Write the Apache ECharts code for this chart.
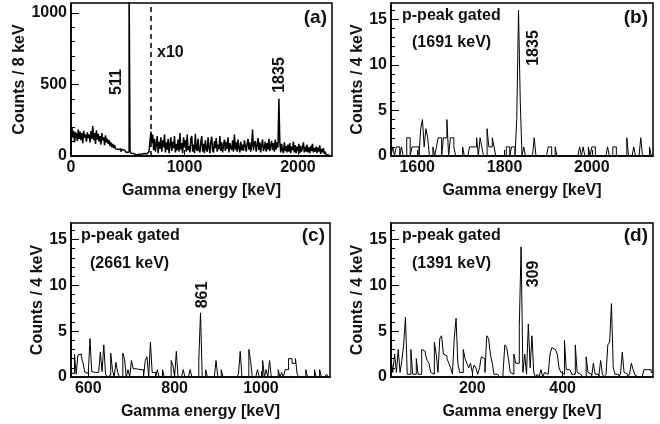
<!DOCTYPE html>
<html>
<head>
<meta charset="utf-8">
<script src="https://cdn.jsdelivr.net/npm/echarts@6/dist/echarts.min.js"></script>
<style>
  html, body { margin: 0; padding: 0; background: #fff; }
  #chart { width: 660px; height: 424px; }
</style>
</head>
<body>
<div id="chart"></div>
<script>
// (a) singles, 8 keV bins from 0 keV (scaled x10 above 700 keV)
const startA = 0, binA = 8;
const countsA = [
  40,200,130,175,95,165,150,105,185,120,
  170,110,160,90,175,130,150,100,165,125,
  150,95,175,120,210,110,160,85,180,115,
  155,100,140,80,160,110,130,75,145,95,
  120,85,110,70,95,60,85,55,75,50,
  60,45,55,35,50,30,45,35,40,30,
  35,25,38,28,1200,40,20,12,18,10,
  14,8,15,10,13,7,11,14,9,15,
  18,12,20,16,25,20,32,30,170,90,
  150,40,120,30,90,140,20,100,50,130,
  30,110,60,150,25,95,45,120,20,80,
  130,35,100,55,140,25,85,40,115,30,
  160,45,90,20,130,60,110,30,150,40,
  70,25,120,140,30,80,20,155,50,35,
  120,40,25,95,140,30,85,20,110,45,
  30,130,60,20,100,135,40,25,105,55,
  125,30,80,45,140,35,95,25,75,115,
  35,100,50,130,25,90,60,40,110,30,
  150,45,95,30,115,55,25,100,40,80,
  35,110,70,30,85,120,45,95,30,75,
  185,40,90,105,30,75,125,40,95,25,
  80,115,35,60,100,30,90,45,120,35,
  70,105,40,90,30,115,45,95,60,400,
  100,25,85,40,20,95,35,70,25,80,
  30,90,20,65,40,100,25,75,20,65,
  35,85,20,70,30,60,95,25,65,30,
  80,25,60,20,70,35,85,25,55,30,
  65,20,60,30,75,15,50,25,55,15,
  30,10,20,5,0,0,0
];
const dashAt = 700;

// (b) p-peak gated (1691 keV), 4 keV bins from 1540 keV
const startB = 1540, binB = 4;
const countsB = [
  0,1,0,1,1,0,1,0,0,2,
  2,0,1,1,1,1,0,3,4,1,
  3,2,0,0,1,0,1,2,2,0,
  2,2,4,0,2,2,1,0,0,0,
  0,1,0,0,0,1,1,1,1,2,
  0,2,1,0,0,3,1,1,2,1,
  0,0,0,0,0,0,1,1,0,1,
  1,0,4,16,6,0,1,0,0,0,
  0,0,2,0,0,0,0,0,0,0,
  1,1,0,0,1,0,0,0,0,0,
  0,0,0,0,0,0,0,0,1,0,
  1,0,0,1,0,1,1,0,0,0,
  0,0,0,0,1,0,0,1,1,0,
  0,0,0,0,0,2,0,0,0,1,
  0,0,0,2,0,0,0,0,1,0
];

// (c) p-peak gated (2661 keV), 4 keV bins from 560 keV
const startC = 560, binC = 4;
const countsC = [
  0.4,0.4,2.5,0.3,2.4,2.5,2.2,1.5,0.5,0.4,
  0.4,4.2,0.6,0.5,0.6,0.5,0.6,2.7,0.6,3.5,
  0.3,0,0.2,2.6,0.8,0,1.6,0.5,0,0,
  2.6,2.0,0,0.8,0,1.8,0.9,0.9,0.8,0.8,
  0.8,0.8,0,1.8,2.2,0,3.8,0.5,0.5,0,
  0.8,0,0,0.8,0,0,0,0,1.8,1.3,
  0,2.8,0,0,0,0.8,0,0,0,0.8,
  0,0,0,0,1.8,7.0,0,0,0.8,0,
  0,0,0,0,1.8,0,0,0.8,0,0,
  0,0,0,0,0,0,0,0.3,2.8,0,
  0,0,0,3.0,1.8,0,0,0,0.8,0,
  0,1.8,0,0.8,0,1.8,0,0,0,0,
  0.8,0,0.5,0,0.8,0.8,2.0,2.0,1.5,1.5,
  2.0,0.3,0,0,0,0,0.8,0,0,0,
  0,0.8,0,0,0.8,0,0,0,0.3,0
];

// (d) p-peak gated (1391 keV), 4 keV bins from 20 keV
const startD = 20, binD = 4;
const countsD = [
  2.0,0.5,2.5,0.5,3.0,0.5,1.8,3.5,6.5,0.3,
  0.3,3.0,0.3,0.3,2.0,0.3,0.3,3.0,2.8,2.5,
  1.8,1.5,0.5,0.3,3.8,2.5,0.5,4.2,4.5,2.5,
  2.3,2.0,1.5,1.0,0.3,4.2,6.4,1.5,0.5,0.5,
  3.0,2.0,1.5,1.0,1.5,0.5,1.3,1.0,0.3,1.0,
  2.2,2.0,0.5,4.5,4.2,2.5,1.5,0.3,0.3,0.3,
  0,0,0.5,3.5,3.2,2.0,0.5,0.3,2.5,1.5,
  1.5,5.5,14.2,0.5,2.5,0.3,5.8,1.0,4.5,0.5,
  0,0.3,0,0.8,0,0.5,0.3,0.5,2.5,3.2,
  3.0,2.8,2.5,1.0,0.5,0.3,4.0,0.8,0.8,1.0,
  0.3,0.3,3.5,0.5,0.3,0.3,0,0,2.2,0.5,
  0.3,0,1.5,0.3,0.3,0,1.8,0.3,0,0.3,
  3.5,3.8,8.0,1.0,0.3,0.3,0,0.3,2.7,0.5,
  0.3,0,0.3,1.5,0.8,0.2,0,0,0,0,
  0.8,0.8,0.8,0.8,0.5
];

// axis ranges and tick labels
const xRanges = [[0, 2300], [1540, 2140], [560, 1160], [20, 600]];
const yMaxA = 1070, yMaxGated = 16.8;
const xTicks = [[0, 1000, 2000], [1600, 1800, 2000], [600, 800, 1000], [200, 400]];
const yTicksA = [0, 500, 1000];
const yMinorA = [100, 200, 300, 400, 600, 700, 800, 900];
const yTicksG = [0, 5, 10, 15];
const yMinorG = [1, 2, 3, 4, 6, 7, 8, 9, 11, 12, 13, 14, 16];

const FONT = '"Liberation Sans", Arial, Helvetica, sans-serif';
const INK = '#111';
const plain = v => String(v);

// histogram outline: each bin gives a flat top from its low edge to its high edge
function toSteps(start, width, counts) {
  const pts = [[start, 0]];
  counts.forEach((c, i) => {
    pts.push([start + i * width, c]);
    pts.push([start + (i + 1) * width, c]);
  });
  return pts;
}

const grids = [
  { left: 71, top: 3, width: 261, height: 153 },
  { left: 391, top: 3, width: 262, height: 153 },
  { left: 71, top: 223, width: 259, height: 154 },
  { left: 391, top: 223, width: 262, height: 154 }
].map(g => Object.assign(g, {
  show: true, borderColor: '#000', borderWidth: 1.5,
  containLabel: false, outerBoundsMode: 'none'
}));

const xAxis = xRanges.map((r, i) => ({
  type: 'value', gridIndex: i, position: 'bottom',
  min: r[0], max: r[1],
  name: 'Gamma energy [keV]', nameLocation: 'middle', nameGap: 27,
  nameTextStyle: { fontFamily: FONT, fontWeight: 'bold', fontSize: 16, color: INK },
  axisLine: { show: true, onZero: false, lineStyle: { color: '#000', width: 1.5 } },
  axisTick: { show: true, inside: true, length: 6, customValues: xTicks[i], lineStyle: { color: '#000' } },
  axisLabel: { customValues: xTicks[i], formatter: plain, margin: 4, fontFamily: FONT, fontWeight: 'bold', fontSize: 16, color: INK },
  splitLine: { show: false }
}));

const yMajor = [0, 1, 2, 3].map(i => ({
  type: 'value', gridIndex: i, position: 'left',
  min: 0, max: i === 0 ? yMaxA : yMaxGated,
  name: i === 0 ? 'Counts / 8 keV' : 'Counts / 4 keV',
  nameLocation: 'middle', nameRotate: 90, nameGap: i === 0 ? 37 : 22,
  nameTextStyle: { fontFamily: FONT, fontWeight: 'bold', fontSize: 16, color: INK },
  axisLine: { show: true, onZero: false, lineStyle: { color: '#000', width: 1.5 } },
  axisTick: { show: true, inside: true, length: 8, customValues: i === 0 ? yTicksA : yTicksG, lineStyle: { color: '#000' } },
  axisLabel: { customValues: i === 0 ? yTicksA : yTicksG, formatter: plain, margin: 4, fontFamily: FONT, fontWeight: 'bold', fontSize: 16, color: INK },
  splitLine: { show: false }
}));

const yMinor = [0, 1, 2, 3].map(i => ({
  type: 'value', gridIndex: i, position: 'left',
  min: 0, max: i === 0 ? yMaxA : yMaxGated,
  axisLine: { show: false },
  axisTick: { show: true, inside: true, length: 4, customValues: i === 0 ? yMinorA : yMinorG, lineStyle: { color: '#000' } },
  axisLabel: { show: false },
  splitLine: { show: false }
}));

const spectra = [
  toSteps(startA, binA, countsA),
  toSteps(startB, binB, countsB),
  toSteps(startC, binC, countsC),
  toSteps(startD, binD, countsD)
];

const series = spectra.map((d, i) => ({
  type: 'line', xAxisIndex: i, yAxisIndex: i,
  data: d, symbol: 'none', clip: true,
  lineStyle: { color: '#000', width: i === 0 ? 1.5 : 1 },
  animation: false, silent: true,
  markLine: i === 0 ? {
    silent: true, symbol: ['none', 'none'], label: { show: false },
    lineStyle: { color: '#000', width: 1.5, type: [5, 4] },
    data: [{ xAxis: dashAt }]
  } : undefined
}));

function txt(text, x, y, opts) {
  opts = opts || {};
  const align = opts.align || 'left';
  return {
    type: 'text', x: x, y: y, rotation: opts.rot || 0, silent: true,
    style: {
      text: text, fill: INK,
      font: 'bold ' + (opts.size || 16) + 'px ' + FONT,
      align: align, verticalAlign: 'middle',
      textAlign: align, textVerticalAlign: 'middle'
    }
  };
}

const up = Math.PI / 2;
const graphic = [
  txt('(a)', 327, 18, { align: 'right', size: 19 }),
  txt('x10', 157, 53),
  txt('511', 117, 82, { align: 'center', rot: up }),
  txt('1835', 280, 75, { align: 'center', rot: up }),

  txt('p-peak gated', 402, 16),
  txt('(1691 keV)', 412, 43),
  txt('(b)', 648, 18, { align: 'right', size: 19 }),
  txt('1835', 534, 48, { align: 'center', rot: up }),

  txt('p-peak gated', 81, 236),
  txt('(2661 keV)', 90, 264),
  txt('(c)', 325, 236, { align: 'right', size: 19 }),
  txt('861', 203, 295, { align: 'center', rot: up }),

  txt('p-peak gated', 402, 236),
  txt('(1391 keV)', 412, 264),
  txt('(d)', 648, 236, { align: 'right', size: 19 }),
  txt('309', 534, 274, { align: 'center', rot: up })
];

const chart = echarts.init(document.getElementById('chart'), null, { renderer: 'canvas' });
chart.setOption({
  backgroundColor: '#fff',
  animation: false,
  grid: grids,
  xAxis: xAxis,
  yAxis: yMajor.concat(yMinor),
  series: series,
  graphic: graphic
});
</script>
</body>
</html>
